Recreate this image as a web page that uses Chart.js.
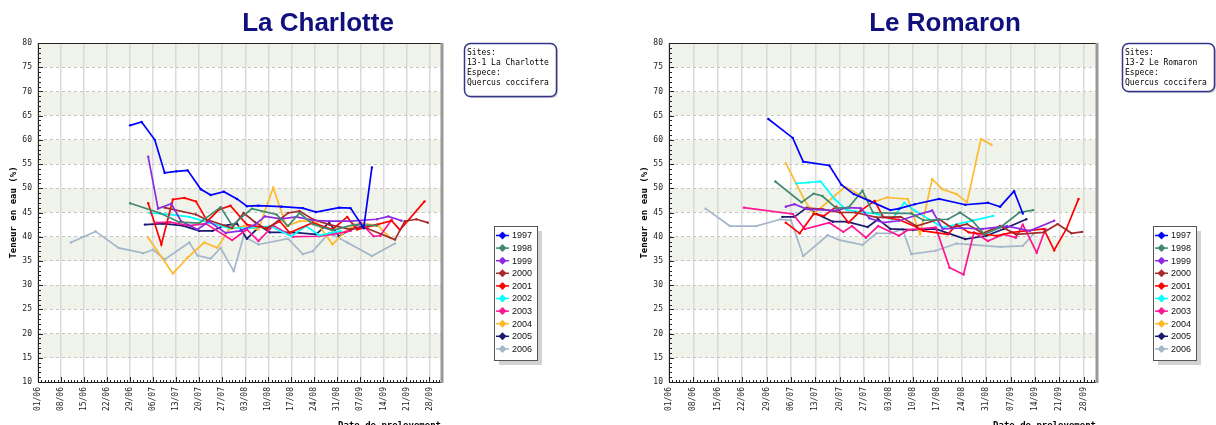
<!DOCTYPE html>
<html>
<head>
<meta charset="utf-8">
<script src="https://cdn.jsdelivr.net/npm/chart.js@4.4.0/dist/chart.umd.min.js"></script>
<style>
  html, body { margin: 0; padding: 0; background: #fff; overflow: hidden; width: 1216px; height: 425px; }
  .site { position: absolute; top: 0; width: 630px; height: 425px; }
</style>
</head>
<body>
<div class="site" style="left:0"><canvas id="charlotte" width="630" height="425"></canvas></div>
<div class="site" style="left:631px"><canvas id="romaron" width="630" height="425"></canvas></div>
<script>
// years and colours of the series
const years = ['1997', '1998', '1999', '2000', '2001', '2002', '2003', '2004', '2005', '2006'];
const yearColors = ['#0000ff', '#3f8a6e', '#8a2be2', '#a52a2a', '#ff0000', '#00ffff', '#ff1493', '#ffb92e', '#191970', '#a3b6ca'];

// x axis: days counted from 1 June, one tick per week
const tickLabels = ['01/06', '08/06', '15/06', '22/06', '29/06', '06/07', '13/07', '20/07', '27/07',
  '03/08', '10/08', '17/08', '24/08', '31/08', '07/09', '14/09', '21/09', '28/09'];

// La Charlotte : [day, teneur en eau %]
const lc1997 = [[28,63],[31.5,63.7],[35.5,60],[38.5,53.2],[42,53.5],[45.5,53.7],[49.5,49.8],[52.5,48.6],[56.5,49.3],[60.5,47.8],[63.5,46.3],[67,46.4],[74,46.2],[80.5,45.9],[84.5,45.1],[91.5,46],[95,45.9],[99,41.8],[101.5,54.3]];
const lc1998 = [[28,46.9],[37,44.9],[43,43],[49,42.8],[55.5,46.1],[59,42.3],[65,45.8],[72.5,44.6],[76,42.2],[79.5,44.9],[83.5,42.6],[89.5,41.3],[96,42.5],[103,42.3]];
const lc1999 = [[33.5,56.5],[36.5,45.8],[40.5,46.8],[43.5,43.2],[48.5,41.5],[52,43.2],[57,40.8],[61.5,41.2],[66,42.5],[69,44.2],[74,43.7],[78.5,44.1],[83.5,43.4],[88.5,43.2],[95,43.2],[103,43.6],[106.5,44.2],[110.5,43.3]];
const lc2000 = [[38.5,46],[48,44.6],[51,43.6],[59,41.8],[62.5,44.9],[66,43],[69.5,41.5],[76,44.9],[79.5,45.3],[83.5,43.6],[88.5,42.5],[95,41.5],[99,42],[108.5,39.4],[111.5,43.2],[115,43.6],[118.5,42.9]];
const lc2001 = [[33.5,46.9],[37.5,38.4],[41,47.7],[44.5,48],[48,47.3],[51.5,43.2],[55,45.6],[58.5,46.4],[63.5,42.5],[69.5,41.8],[73.5,43.2],[76.5,40.8],[83.5,42.9],[89.5,41.5],[94,44.1],[97,41.5],[103,42.5],[107.5,43.3],[110,41.4],[117.5,47.3]];
const lc2002 = [[34,44.9],[40,44.6],[46,44.1],[52,42.9],[58,41.8],[64.5,41.8],[70.5,42.2],[77,40.1],[81.5,42.2],[85.5,40.3],[92,41.2]];
const lc2003 = [[36,42.9],[40,43],[46,42.3],[51,42.7],[59,39.3],[63.5,41.5],[67,39.1],[71.5,42.3],[77.5,40],[85.5,40.1],[89.5,40.5],[95,41.2],[98,42.9],[102,40.1],[104,40.2],[107.5,43.5]];
const lc2004 = [[33.5,39.8],[41,32.4],[45.5,35.7],[50.5,38.8],[54.5,37.7],[58,41.5],[62.5,42.2],[67,41.5],[71.5,50.1],[75.5,42.2],[79.5,43.2],[84.5,43.2],[89.5,38.4],[94,41.5],[98,42.9],[103.5,42.2],[107,39.8]];
const lc2005 = [[32.5,42.5],[38,42.7],[44,42.3],[49,41.2],[53,41.2],[56.5,42.3],[60.5,42.7],[63.5,39.6],[67.5,42.2],[70.5,40.9],[77.5,40.9],[84.5,40.5],[88.5,42.9],[91.5,40.1],[95,41.5],[99,42.2]];
const lc2006 = [[10,38.8],[17.5,41.1],[24.5,37.7],[32,36.6],[35,37.3],[38.5,35.3],[46,38.8],[48.5,36.1],[52.5,35.5],[55.5,37.7],[59.5,32.9],[62.5,40.1],[67,38.4],[76,39.6],[80.5,36.4],[83.5,37],[88.5,40.8],[94,38.8],[101.5,36],[108.5,38.6]];

// Le Romaron
const lr1997 = [[28.5,64.3],[35.5,60.4],[38.5,55.5],[46,54.7],[49.5,50.7],[53,48.8],[57.5,47.4],[63.5,45.5],[66,45.8],[70.5,46.7],[77.5,47.8],[85,46.6],[91.5,47],[95,46.2],[99,49.4],[101.5,44.8]];
const lr1998 = [[30.5,51.4],[38,47.1],[41.5,48.9],[44,48.4],[48,45.9],[51.5,46],[55.5,49.5],[58.5,45],[65,44.8],[69.5,44.8],[73,43.4],[80,43.6],[83.5,45],[87,43.3],[90.5,40.5],[95,41.9],[100.5,45],[104.5,45.5]];
const lr1999 = [[33.5,46.2],[36,46.7],[39.5,45.7],[48,45.4],[51,46],[55,45.9],[57.5,43.8],[61.5,42.9],[66,43.3],[72,44.7],[75.5,45.4],[78.5,41.6],[84,41.8],[90,41.6],[97,42.2],[103.5,41.2],[110.5,43.3]];
const lr2000 = [[39.5,45.9],[44,45.7],[49,45],[53.5,45],[59.5,44],[66.5,44.1],[71,42.2],[77.5,43.6],[81,41.9],[85.5,42.6],[90,40.7],[95,42.2],[99.5,40.5],[107.5,40.9],[111.5,42.6],[115.5,40.7],[118.5,41]];
const lr2001 = [[33.5,42.9],[37.5,40.7],[41.5,44.7],[44.5,44.3],[48,46.2],[51.5,42.9],[55,45.4],[59,47.4],[61.5,44],[66,43.5],[71,42],[73,41.2],[80,40.5],[82.5,42.5],[86,40.9],[94,40.2],[98.5,40.9],[107.5,41.6],[110.5,37.2],[114,41.6],[117.5,47.8]];
const lr2002 = [[36.5,51],[40,51.2],[43.5,51.4],[47.5,47.8],[51,45.5],[59.5,44.7],[64,43.6],[67.5,47],[70.5,45.4],[78.5,41.9],[93,44.3]];
const lr2003 = [[21.5,46],[35.5,44.7],[39,41.6],[46,42.9],[50,41],[52.5,42.2],[56.5,39.8],[60,42.2],[66,40.2],[68.5,41.4],[76.5,41.9],[80.5,33.6],[84.5,32.2],[87.5,40.9],[91.5,39.1],[96,40.5],[99.5,39.8],[101.5,42.5],[105.5,36.7],[108,41.6]];
const lr2004 = [[33.5,55.2],[39,47.4],[41.5,44.7],[50.5,50.3],[58.5,47.1],[62.5,48.1],[68.5,47.8],[72,40.5],[75.5,51.9],[78.5,49.8],[82.5,48.8],[85.5,47.1],[89.5,60.2],[92.5,59]];
const lr2005 = [[32.5,44.1],[36,44.1],[39.5,46],[43,44.5],[47,43.1],[51,43.1],[57,42],[60,43.6],[63.5,41.6],[70,41.4],[76.5,41.6],[85,39.5],[91,40.2],[96,41.6],[102.5,43.6]];
const lr2006 = [[10.5,45.8],[17.5,42.2],[25,42.2],[32,43.6],[35,43.4],[38.5,36],[45.5,40.3],[49,39.3],[55.5,38.3],[59.5,40.7],[63.5,40.7],[67,41.6],[69.5,36.4],[76.5,37.1],[82.5,38.6],[87.5,38.3],[95,37.9],[101.5,38.1],[104.5,40.5]];

const mono = 'DejaVu Sans Mono';

// title, bands, frame, small ticks, axis titles, legend and info box
const sitePanel = {
    id: 'sitePanel',
    beforeDraw(chart) {
        const {ctx, chartArea: a, scales: {y}} = chart;
        ctx.save();
        ctx.fillStyle = '#f0f3e9';
        for (let v = 15; v < 80; v += 10) {
            const top = y.getPixelForValue(v + 5);
            ctx.fillRect(a.left, top, a.right - a.left, y.getPixelForValue(v) - top);
        }
        ctx.restore();
    },
    afterDatasetsDraw(chart) {
        const {ctx, chartArea: a, scales: {x, y}} = chart;
        ctx.save();
        ctx.strokeStyle = '#222';
        ctx.lineWidth = 1;
        ctx.beginPath();
        for (let v = 10; v <= 80; v++) {
            const py = Math.round(y.getPixelForValue(v)) + 0.5;
            ctx.moveTo(a.left, py);
            ctx.lineTo(a.left + (v % 5 === 0 ? 5 : 3), py);
        }
        for (let d = 0; d <= 122; d++) {
            const px = Math.round(x.getPixelForValue(d)) + 0.5;
            ctx.moveTo(px, a.bottom);
            ctx.lineTo(px, a.bottom - (d % 7 === 0 ? 5 : 2));
        }
        ctx.stroke();
        // frame
        ctx.beginPath();
        ctx.moveTo(a.right, Math.round(a.top) + 0.5);
        ctx.lineTo(Math.round(a.left) + 0.5, Math.round(a.top) + 0.5);
        ctx.lineTo(Math.round(a.left) + 0.5, Math.round(a.bottom) + 0.5);
        ctx.lineTo(a.right, Math.round(a.bottom) + 0.5);
        ctx.stroke();
        ctx.strokeStyle = '#999';
        ctx.lineWidth = 3;
        ctx.beginPath();
        ctx.moveTo(a.right + 1, a.top);
        ctx.lineTo(a.right + 1, a.bottom + 1);
        ctx.stroke();
        ctx.restore();
    },
    afterDraw(chart, args, opts) {
        const {ctx, chartArea: a} = chart;
        ctx.save();
        // title
        ctx.fillStyle = '#10107f';
        ctx.font = 'bold 26px "Liberation Sans"';
        ctx.textAlign = 'center';
        ctx.textBaseline = 'middle';
        ctx.fillText(opts.title, opts.titleX, 24);

        // axis titles
        ctx.fillStyle = '#000';
        ctx.font = 'bold 9px ' + mono;
        ctx.textAlign = 'right';
        ctx.fillText('Date de prelevement', a.right, 426);
        ctx.save();
        ctx.translate(14, (a.top + a.bottom) / 2);
        ctx.rotate(-Math.PI / 2);
        ctx.textAlign = 'center';
        ctx.fillText('Teneur en eau (%)', 0, 0);
        ctx.restore();

        // legend
        const lx = opts.legendX, ly = 226, lw = 43, lh = 134;
        ctx.fillStyle = '#d2d2d2';
        ctx.fillRect(lx + 5, ly + 5, lw, lh);
        ctx.fillStyle = '#fff';
        ctx.fillRect(lx, ly, lw, lh);
        ctx.strokeStyle = '#555';
        ctx.lineWidth = 1;
        ctx.strokeRect(lx + 0.5, ly + 0.5, lw, lh);
        ctx.font = '9px "Liberation Sans"';
        ctx.textAlign = 'left';
        chart.data.datasets.forEach((ds, i) => {
            const cy = ly + 9.5 + i * 12.6;
            ctx.strokeStyle = ds.borderColor;
            ctx.fillStyle = ds.borderColor;
            ctx.lineWidth = 1.5;
            ctx.beginPath();
            ctx.moveTo(lx + 2, cy);
            ctx.lineTo(lx + 15, cy);
            ctx.stroke();
            ctx.beginPath();
            ctx.moveTo(lx + 8.5, cy - 4);
            ctx.lineTo(lx + 12.5, cy);
            ctx.lineTo(lx + 8.5, cy + 4);
            ctx.lineTo(lx + 4.5, cy);
            ctx.closePath();
            ctx.fill();
            ctx.fillStyle = '#111';
            ctx.fillText(ds.label, lx + 18, cy + 0.5);
        });

        // info box
        const ix = opts.infoX, iy = 43, iw = 92, ih = opts.infoH;
        ctx.fillStyle = '#c8c8c8';
        ctx.beginPath();
        ctx.roundRect(ix + 2, iy + 2, iw, ih, 6);
        ctx.fill();
        ctx.fillStyle = '#fff';
        ctx.strokeStyle = '#34348c';
        ctx.beginPath();
        ctx.roundRect(ix + 0.5, iy + 0.5, iw, ih, 6);
        ctx.fill();
        ctx.stroke();
        ctx.fillStyle = '#000';
        ctx.font = '8px ' + mono;
        opts.lines.forEach((t, i) => ctx.fillText(t, ix + 3, iy + 10 + i * 10));
        ctx.restore();
    }
};

function siteChart(id, title, series, padRight, titleX, legendX, infoX, infoH, lines) {
    return new Chart(document.getElementById(id), {
        type: 'line',
        data: {
            datasets: series.map((pts, i) => ({
                label: years[i],
                data: pts.map(([d, v]) => ({x: d, y: v})),
                borderColor: yearColors[i],
                backgroundColor: yearColors[i],
                borderWidth: 1.7,
                pointRadius: 1.2,
                pointBorderWidth: 0,
                tension: 0,
                fill: false
            }))
        },
        options: {
            responsive: false,
            animation: false,
            layout: {padding: {top: 43, right: padRight}},
            plugins: {
                title: {display: false},
                legend: {display: false},
                tooltip: {enabled: false},
                sitePanel: {title: title, titleX: titleX, legendX: legendX, infoX: infoX, infoH: infoH, lines: lines}
            },
            scales: {
                x: {
                    type: 'linear',
                    min: 0,
                    max: 122.5,
                    afterBuildTicks: s => { s.ticks = tickLabels.map((t, i) => ({value: i * 7})); },
                    afterFit: s => { s.height = 43; },
                    ticks: {
                        callback: (v, i) => tickLabels[i],
                        minRotation: 90,
                        maxRotation: 90,
                        padding: 5,
                        color: '#222',
                        font: {family: mono, size: 8}
                    },
                    grid: {color: '#dadada', lineWidth: 1.5, drawTicks: false},
                    border: {display: false}
                },
                y: {
                    min: 10,
                    max: 80,
                    afterFit: s => { s.width = 38; },
                    ticks: {
                        stepSize: 5,
                        padding: 6,
                        color: '#222',
                        font: {family: mono, size: 8}
                    },
                    grid: {color: '#c6c6c6', lineWidth: 1, drawTicks: false},
                    border: {display: false, dash: [3, 3]}
                }
            }
        },
        plugins: [sitePanel]
    });
}

siteChart('charlotte', 'La Charlotte',
    [lc1997, lc1998, lc1999, lc2000, lc2001, lc2002, lc2003, lc2004, lc2005, lc2006],
    189, 318, 494, 464, 53, ['Sites:', '13-1 La Charlotte', 'Espece:', 'Quercus coccifera']);

siteChart('romaron', 'Le Romaron',
    [lr1997, lr1998, lr1999, lr2000, lr2001, lr2002, lr2003, lr2004, lr2005, lr2006],
    165, 314, 522, 491, 48, ['Sites:', '13-2 Le Romaron', 'Espece:', 'Quercus coccifera']);
</script>
</body>
</html>
